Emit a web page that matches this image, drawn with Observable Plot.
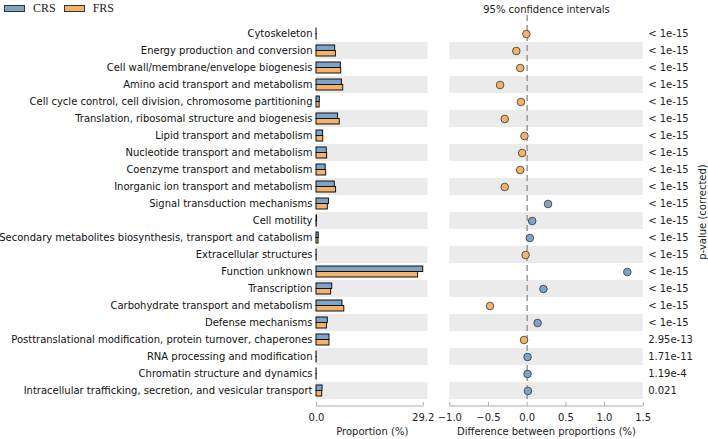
<!DOCTYPE html>
<html>
<head>
<meta charset="utf-8">
<script src="https://cdn.jsdelivr.net/npm/d3@7"></script>
<script src="https://cdn.jsdelivr.net/npm/@observablehq/plot@0.6"></script>
<style>
  html, body { margin: 0; padding: 0; background: white; }
  #wrap { position: relative; width: 708px; height: 439px; overflow: hidden; font-family: "DejaVu Sans", sans-serif; }
  #wrap svg { position: absolute; left: 0; top: 0; }
  #legend { position: absolute; left: 4px; top: 1px; font-family: "Liberation Serif", serif; font-size: 12px; color: #222; display: flex; align-items: center; z-index: 5; }
  #legend .sw { display: inline-block; width: 19px; height: 5px; border: 1.5px solid #333; margin-right: 8px; }
  #legend span.lab { margin-right: 8px; }
</style>
</head>
<body>
<div id="wrap">
  <div id="legend"></div>
</div>
<script>
const categories = [
  "Cytoskeleton",
  "Energy production and conversion",
  "Cell wall/membrane/envelope biogenesis",
  "Amino acid transport and metabolism",
  "Cell cycle control, cell division, chromosome partitioning",
  "Translation, ribosomal structure and biogenesis",
  "Lipid transport and metabolism",
  "Nucleotide transport and metabolism",
  "Coenzyme transport and metabolism",
  "Inorganic ion transport and metabolism",
  "Signal transduction mechanisms",
  "Cell motility",
  "Secondary metabolites biosynthesis, transport and catabolism",
  "Extracellular structures",
  "Function unknown",
  "Transcription",
  "Carbohydrate transport and metabolism",
  "Defense mechanisms",
  "Posttranslational modification, protein turnover, chaperones",
  "RNA processing and modification",
  "Chromatin structure and dynamics",
  "Intracellular trafficking, secretion, and vesicular transport"
];
const crs = [0.02, 5.1, 6.65, 6.95, 0.9, 5.9, 1.8, 2.8, 2.5, 5.0, 3.4, 0.15, 0.6, 0.03, 29.2, 4.3, 7.1, 3.1, 3.55, 0.03, 0.03, 1.65];
const frs = [0.03, 5.3, 6.75, 7.3, 0.85, 6.35, 1.85, 2.9, 2.65, 5.35, 3.1, 0.08, 0.55, 0.05, 27.8, 4.0, 7.6, 2.85, 3.55, 0.03, 0.03, 1.55];
const diff = [-0.01, -0.14, -0.09, -0.35, -0.08, -0.29, -0.035, -0.065, -0.09, -0.29, 0.27, 0.065, 0.035, -0.02, 1.295, 0.21, -0.48, 0.135, -0.04, 0.005, 0.005, 0.01];
const pvalues = ["< 1e-15","< 1e-15","< 1e-15","< 1e-15","< 1e-15","< 1e-15","< 1e-15","< 1e-15","< 1e-15","< 1e-15","< 1e-15","< 1e-15","< 1e-15","< 1e-15","< 1e-15","< 1e-15","< 1e-15","< 1e-15","2.95e-13","1.71e-11","1.19e-4","0.021"];
const groups = ["CRS", "FRS"];
const colors = ["#7da5c9", "#f4b36c"];
const propTicks = [0, 29.2];
const propDomain = [0, 30.5];
const diffTicks = [-1, -0.5, 0, 0.5, 1, 1.5];
const diffDomain = [-1, 1.5];

const rows = categories.map((c, i) => ({cat: c, crs: crs[i], frs: frs[i], diff: diff[i], p: pvalues[i], shaded: i % 2 === 1, grp: diff[i] > 0 ? "CRS" : "FRS"}));
const shaded = rows.filter(d => d.shaded);
const lastCat = categories[categories.length - 1];

const common = {
  width: 708, height: 439, marginTop: 24, marginBottom: 40,
  style: {background: "transparent", overflow: "visible", fontFamily: "DejaVu Sans, sans-serif", fontSize: "10px", color: "#222"},
  color: {domain: groups, range: colors}
};

const barPlot = Plot.plot({
  ...common,
  marginLeft: 316, marginRight: 708 - 427.5,
  x: {domain: propDomain},
  y: {domain: categories, padding: 0},
  marks: [
    Plot.barX(shaded, {y: "cat", x1: () => propDomain[0], x2: () => propDomain[1], fill: "#ebebeb"}),
    Plot.barX(rows, {y: "cat", x: "crs", fill: () => "CRS", stroke: "#111", strokeWidth: 1, insetTop: 3, insetBottom: 8.5}),
    Plot.barX(rows, {y: "cat", x: "frs", fill: () => "FRS", stroke: "#111", strokeWidth: 1, insetTop: 8.5, insetBottom: 3}),
    Plot.axisY({tickSize: 0, tickPadding: 4, label: null, fill: "#111", fontSize: 10}),
    Plot.ruleY([lastCat], {y: d => d, x1: () => propTicks[0], x2: () => propTicks[propTicks.length - 1], stroke: "#aaa", dy: 15}),
    Plot.axisX({ticks: propTicks, tickFormat: ".1f", tickSize: 4, tickPadding: 7, dy: 3, label: null, stroke: "#aaa", fill: "#222", fontSize: 10}),
    Plot.text(["Proportion (%)"], {frameAnchor: "bottom", dy: 35, fontSize: 10, fill: "#222"})
  ]
});

const dotPlot = Plot.plot({
  ...common,
  marginLeft: 449.3, marginRight: 708 - 642.7,
  x: {domain: diffDomain},
  y: {domain: categories, padding: 0, axis: null},
  marks: [
    Plot.barX(shaded, {y: "cat", x1: () => diffDomain[0], x2: () => diffDomain[1], fill: "#ebebeb"}),
    Plot.ruleX([0], {stroke: "#999", strokeWidth: 1.5, strokeDasharray: "6,4", insetTop: -9}),
    Plot.dot(rows, {y: "cat", x: "diff", fill: "grp", r: 3.8, stroke: "#333", strokeWidth: 0.8}),
    Plot.ruleY([lastCat], {y: d => d, x1: () => diffDomain[0], x2: () => diffDomain[1], stroke: "#aaa", dy: 15}),
    Plot.axisX({ticks: diffTicks, tickFormat: ".1f", tickSize: 4, tickPadding: 7, dy: 3, label: null, stroke: "#aaa", fill: "#222", fontSize: 10}),
    Plot.text(rows, {y: "cat", text: "p", frameAnchor: "right", dx: 5, textAnchor: "start", fill: "#222", fontSize: 10}),
    Plot.text(["p-value (corrected)"], {frameAnchor: "right", dx: 60, rotate: -90, textAnchor: "middle", fill: "#222", fontSize: 10}),
    Plot.text(["95% confidence intervals"], {frameAnchor: "top", dy: -19, fontSize: 10, fill: "#222"}),
    Plot.text(["Difference between proportions (%)"], {frameAnchor: "bottom", dy: 35, fontSize: 10, fill: "#222"})
  ]
});

const wrap = document.getElementById("wrap");
wrap.appendChild(barPlot);
wrap.appendChild(dotPlot);

const legend = document.getElementById("legend");
groups.forEach((g, i) => {
  const sw = document.createElement("span");
  sw.className = "sw";
  sw.style.background = colors[i];
  const lab = document.createElement("span");
  lab.className = "lab";
  lab.textContent = g;
  legend.appendChild(sw);
  legend.appendChild(lab);
});
</script>
</body>
</html>
